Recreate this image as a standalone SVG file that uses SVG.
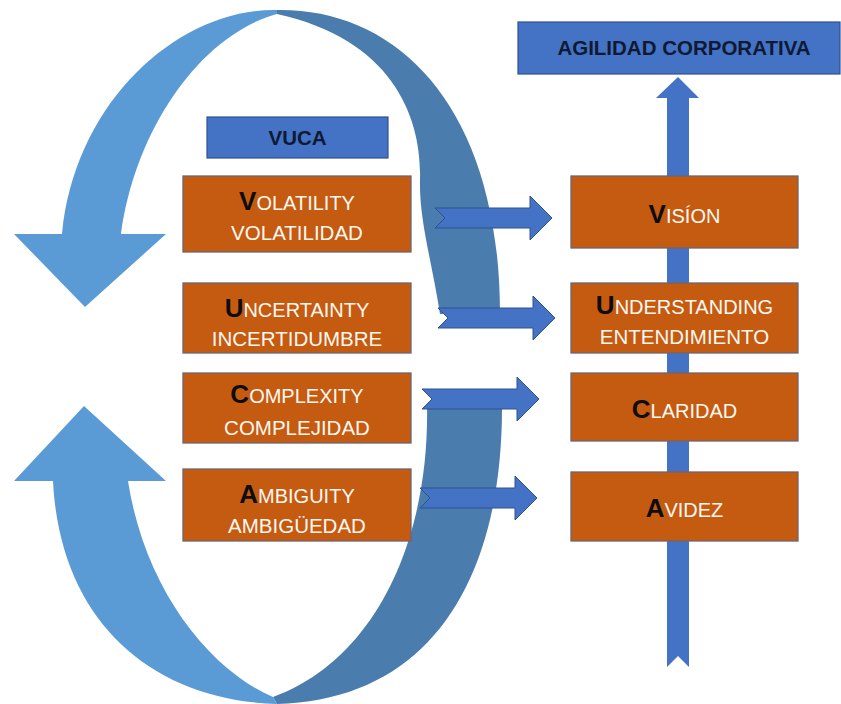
<svg xmlns="http://www.w3.org/2000/svg" xmlns:xlink="http://www.w3.org/1999/xlink" width="841" height="704" viewBox="0 0 841 704">
  <style>
    .face { fill: #5B9BD5; }
    .back { fill: #4A7DAD; }
    .orange { fill: #C55A11; stroke: #6E6470; stroke-width: 1.3; }
    .blue { fill: #4472C4; stroke: #2F528F; stroke-width: 1.2; }
    .link { fill: #4472C4; stroke: #2F528F; stroke-width: 1; }
    text { font-family: "Liberation Sans", Arial, sans-serif; text-anchor: middle; }
    .big { font-size: 26px; font-weight: bold; fill: #0D0D0D; }
    .sc { font-size: 20px; fill: #FFF8F0; }
    .l2 { font-size: 20.5px; fill: #FFF8F0; }
    .title { font-size: 20.5px; font-weight: bold; fill: #0E1A33; }
  </style>
  <defs>
    <!-- notched right arrow, origin at the notch-side centre -->
    <path id="notched" d="M0,-10 L95,-10 L95,-22 L117,0 L95,22 L95,10 L0,10 L10,0 Z"/>
  </defs>

  <rect width="841" height="704" fill="#FFFFFF"/>

  <!-- cycle of two curved arrows: darker back faces, lighter front faces -->
  <g id="cycle">
    <path class="back" d="M277,10 C400,8 500,110 500,314 L440,314 C432,262 419,220 420,180 C422,120 395,40 277,14 Z"/>
    <path class="back" d="M277,704 C430,700 503,580 502,404 L427,404 C430,540 375,660 273,697 Z"/>
    <path class="face" d="M277,10 C180,8 75,100 62,234 L14,234 L85,307 L166,234 L121,234 C135,130 200,35 277,14 Z"/>
    <path class="face" d="M277,704 C150,700 60,620 53,481 L14,481 L84,406 L166,481 L128,481 C145,590 210,670 273,697 Z"/>
  </g>

  <!-- vertical spine feeding the top box -->
  <g id="spine">
    <path fill="#4472C4" d="M678,77 L699,98 L689,98 L689,667 L678,656 L667,667 L667,98 L656,98 Z"/>
  </g>

  <g id="vuca">
    <rect class="blue" x="207" y="117" width="181" height="41"/>
    <text class="title" x="297.5" y="145">VUCA</text>
  </g>

  <g id="agilidad">
    <rect class="blue" x="518" y="22" width="322" height="52"/>
    <text class="title" x="684" y="55">AGILIDAD CORPORATIVA</text>
  </g>

  <g id="volatility">
    <rect class="orange" x="183" y="176" width="228" height="76"/>
    <text x="297" y="210"><tspan class="big">V</tspan><tspan class="sc">OLATILITY</tspan></text>
    <text class="l2" x="297" y="240">VOLATILIDAD</text>
  </g>

  <g id="uncertainty">
    <rect class="orange" x="183" y="283" width="228" height="70"/>
    <text x="297" y="317"><tspan class="big">U</tspan><tspan class="sc">NCERTAINTY</tspan></text>
    <text class="l2" x="297" y="346">INCERTIDUMBRE</text>
  </g>

  <g id="complexity">
    <rect class="orange" x="183" y="373" width="228" height="70"/>
    <text x="297" y="403"><tspan class="big">C</tspan><tspan class="sc">OMPLEXITY</tspan></text>
    <text class="l2" x="297" y="435">COMPLEJIDAD</text>
  </g>

  <g id="ambiguity">
    <rect class="orange" x="183" y="469" width="228" height="72"/>
    <text x="297" y="503"><tspan class="big">A</tspan><tspan class="sc">MBIGUITY</tspan></text>
    <text class="l2" x="297" y="533">AMBIGÜEDAD</text>
  </g>

  <g id="vision">
    <rect class="orange" x="571" y="176" width="227" height="72"/>
    <text x="684.5" y="223"><tspan class="big">V</tspan><tspan class="sc">ISÍON</tspan></text>
  </g>

  <g id="understanding">
    <rect class="orange" x="571" y="283" width="227" height="70"/>
    <text x="684.5" y="314"><tspan class="big">U</tspan><tspan class="sc">NDERSTANDING</tspan></text>
    <text class="l2" x="684.5" y="344">ENTENDIMIENTO</text>
  </g>

  <g id="claridad">
    <rect class="orange" x="571" y="373" width="227" height="68"/>
    <text x="684.5" y="418"><tspan class="big">C</tspan><tspan class="sc">LARIDAD</tspan></text>
  </g>

  <g id="avidez">
    <rect class="orange" x="571" y="472" width="227" height="69"/>
    <text x="684.5" y="517"><tspan class="big">A</tspan><tspan class="sc">VIDEZ</tspan></text>
  </g>

  <!-- links from each VUCA factor to its answer -->
  <g id="connectors">
    <use class="link" xlink:href="#notched" href="#notched" transform="translate(435,218)"/>
    <use class="link" xlink:href="#notched" href="#notched" transform="translate(438,318)"/>
    <use class="link" xlink:href="#notched" href="#notched" transform="translate(422,399)"/>
    <use class="link" xlink:href="#notched" href="#notched" transform="translate(420,498)"/>
  </g>
</svg>
